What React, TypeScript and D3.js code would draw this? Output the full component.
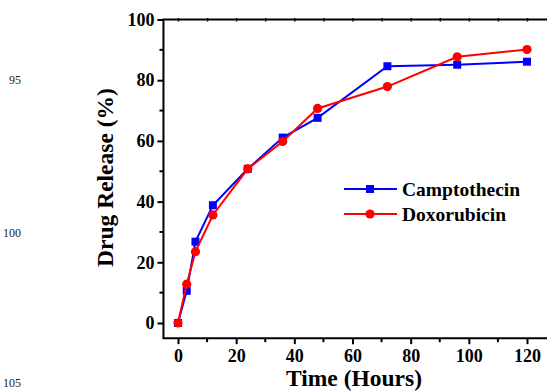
import React, { useEffect, useRef } from "react";
import * as d3 from "d3";

// release profile
const hours = [0, 3, 6, 12, 24, 36, 48, 72, 96, 120];
const camptothecin = [0, 10.6, 26.8, 38.8, 50.8, 61.1, 67.6, 84.6, 85.1, 86.1];
const doxorubicin = [0, 12.8, 23.5, 35.6, 50.8, 59.8, 70.7, 77.9, 87.7, 90.1];
const seriesNames = ["Camptothecin", "Doxorubicin"];
const seriesColors = ["#0000ff", "#ff0000"];
const xTicks = [0, 20, 40, 60, 80, 100, 120];
const xMinor = [10, 30, 50, 70, 90, 110];
const yTicks = [0, 20, 40, 60, 80, 100];
const yMinor = [10, 30, 50, 70, 90];
const lineNumbers = ["95", "100", "105"];

const W = 547, H = 391;
const FONT = "Liberation Serif, Times New Roman, serif";

const App = () => {
  const ref = useRef<SVGSVGElement>(null);

  useEffect(() => {
    const svg = d3.select(ref.current);
    svg.selectAll("*").remove();

    const x = d3.scaleLinear().domain([0, 120]).range([178, 527]);
    const y = d3.scaleLinear().domain([0, 100]).range([323, 19.5]);
    const x0 = x(-5), y0 = y(-5), yTop = y(100);

    const g = svg.append("g").attr("font-family", FONT);

    // stray manuscript line numbers
    const lnY = [80, 233, 383];
    g.selectAll("text.ln").data(lineNumbers).enter().append("text")
      .attr("class", "ln")
      .attr("x", 21).attr("y", (d, i) => lnY[i]).attr("dy", "0.35em")
      .attr("text-anchor", "end").attr("font-size", 12).attr("fill", "#222")
      .attr("font-family", FONT)
      .text(d => d);

    // bottom axis
    const xAxis = g.append("g").attr("transform", `translate(0,${y0})`)
      .call(d3.axisBottom(x).tickValues(xTicks).tickSize(6).tickSizeOuter(0).tickPadding(5));
    xAxis.attr("font-family", FONT);
    xAxis.select(".domain").remove();
    xAxis.selectAll("line").attr("stroke", "#000").attr("stroke-width", 2);
    xAxis.selectAll("text").attr("font-size", 18).attr("font-weight", "bold")
      .attr("font-family", FONT).attr("fill", "#000");
    xAxis.selectAll("line.minor").data(xMinor).enter().append("line")
      .attr("class", "minor").attr("x1", d => x(d)).attr("x2", d => x(d))
      .attr("y1", 0).attr("y2", 4).attr("stroke", "#000").attr("stroke-width", 2);

    // left axis
    const yAxis = g.append("g").attr("transform", `translate(${x0},0)`)
      .call(d3.axisLeft(y).tickValues(yTicks).tickSize(6).tickSizeOuter(0).tickPadding(3));
    yAxis.attr("font-family", FONT);
    yAxis.select(".domain").remove();
    yAxis.selectAll("line").attr("stroke", "#000").attr("stroke-width", 2);
    yAxis.selectAll("text").attr("font-size", 18).attr("font-weight", "bold")
      .attr("font-family", FONT).attr("fill", "#000");
    yAxis.selectAll("line.minor").data(yMinor).enter().append("line")
      .attr("class", "minor").attr("y1", d => y(d)).attr("y2", d => y(d))
      .attr("x1", 0).attr("x2", -4).attr("stroke", "#000").attr("stroke-width", 2);

    // top axis with tiny ticks
    const top = g.append("g").attr("transform", `translate(0,${yTop})`)
      .call(d3.axisTop(x).tickValues(d3.range(0, 130, 10)).tickSize(-2).tickSizeOuter(0).tickFormat(() => ""));
    top.select(".domain").remove();
    top.selectAll("line").attr("stroke", "#000").attr("stroke-width", 1.5).attr("y1", -1.5);

    // frame lines
    g.append("path")
      .attr("d", `M${W},${yTop}H${x0}V${y0}H${W}`)
      .attr("fill", "none").attr("stroke", "#000").attr("stroke-width", 2);

    const line = d3.line<number>().x((d, i) => x(hours[i])).y(d => y(d));
    const series = [camptothecin, doxorubicin];

    series.forEach((vals, si) => {
      const c = seriesColors[si];
      g.append("path").datum(vals).attr("d", line)
        .attr("fill", "none").attr("stroke", c).attr("stroke-width", 2);
      if (si === 0) {
        g.selectAll("rect.m" + si).data(vals).enter().append("rect")
          .attr("class", "m" + si)
          .attr("x", (d, i) => x(hours[i]) - 4).attr("y", d => y(d) - 4)
          .attr("width", 8).attr("height", 8).attr("fill", c);
      } else {
        g.selectAll("circle.m" + si).data(vals).enter().append("circle")
          .attr("class", "m" + si)
          .attr("cx", (d, i) => x(hours[i])).attr("cy", d => y(d))
          .attr("r", 4.6).attr("fill", c);
      }
    });

    // legend
    const leg = g.append("g").attr("transform", "translate(344,189)");
    seriesNames.forEach((name, i) => {
      const row = leg.append("g").attr("transform", `translate(0,${i * 25})`);
      row.append("line").attr("x1", 0).attr("x2", 53).attr("stroke", seriesColors[i]).attr("stroke-width", 2);
      if (i === 0) row.append("rect").attr("x", 22).attr("y", -4).attr("width", 8).attr("height", 8).attr("fill", seriesColors[i]);
      else row.append("circle").attr("cx", 26).attr("r", 4.6).attr("fill", seriesColors[i]);
      row.append("text").attr("x", 58).attr("dy", "0.35em")
        .attr("font-size", 19.5).attr("font-weight", "bold").text(name);
    });

    // axis titles
    g.append("text").attr("x", 354).attr("y", 386).attr("text-anchor", "middle")
      .attr("font-size", 23.5).attr("font-weight", "bold").text("Time (Hours)");
    g.append("text").attr("transform", "translate(113,177.5) rotate(-90)")
      .attr("text-anchor", "middle").attr("font-size", 23.5).attr("font-weight", "bold")
      .text("Drug Release (%)");
  }, []);

  return (
    <div style={{ position: "fixed", left: 0, top: 0 }}>
      <svg ref={ref} width={W} height={H} style={{ display: "block", background: "#fff" }} />
    </div>
  );
};

export default App;
